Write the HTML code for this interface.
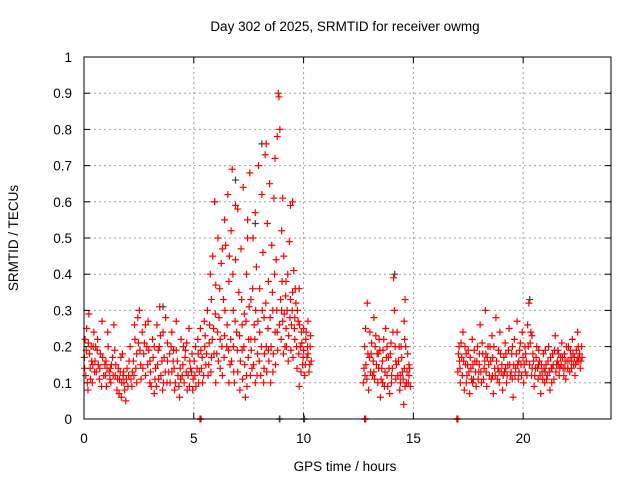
<!DOCTYPE html>
<html><head><meta charset="utf-8"><style>
html,body{margin:0;padding:0;background:#fff;}
svg{display:block;font-family:"Liberation Sans",sans-serif;}
</style></head><body>
<svg id="chart" width="640" height="480" xmlns="http://www.w3.org/2000/svg">
<text x="345" y="31" font-size="13.5" text-anchor="middle">Day 302 of 2025, SRMTID for receiver owmg</text>
<text x="345" y="471" font-size="13.5" text-anchor="middle">GPS time / hours</text>
<text x="18" y="238" font-size="13.5" text-anchor="middle" transform="rotate(-90 18 238)">SRMTID / TECUs</text>
<g id="grid"></g>
<g id="ticks"></g>
<g id="marks"></g>
<rect x="84" y="57" width="527" height="362" fill="none" stroke="#000" stroke-width="1"/>
</svg>
<script>
const xTicks = [0, 5, 10, 15, 20];
const yTicks = [0, 0.1, 0.2, 0.3, 0.4, 0.5, 0.6, 0.7, 0.8, 0.9, 1];
const yTickLabels = ["0","0.1","0.2","0.3","0.4","0.5","0.6","0.7","0.8","0.9","1"];
const segA = [[0.02,.17],[0.08,.12],[0.12,.25],[0.18,.08],[0.22,.29],[0.28,.14],[0.33,.2],[0.38,.1],[0.45,.24],[0.5,.16],[0.56,.13],[0.62,.22],[0.7,.11],[0.75,.18],[0.82,.27],[0.9,.12],[0.95,.15],[1.02,.09],[1.1,.2],[1.15,.13],[1.22,.1],[1.3,.17],[1.36,.26],[1.42,.12],[1.5,.08],[1.56,.14],[1.62,.11],[1.7,.06],[1.75,.18],[1.82,.1],[1.9,.05],[1.96,.14],[2.03,.12],[2.1,.2],[2.18,.09],[2.25,.16],[2.32,.22],[2.4,.1],[2.45,.28],[2.52,.3],[2.58,.15],[2.65,.24],[2.72,.18],[2.8,.12],[2.86,.2],[2.92,.27],[3.0,.16],[3.06,.09],[3.12,.22],[3.2,.07],[3.26,.14],[3.32,.26],[3.38,.19],[3.45,.31],[3.5,.12],[3.58,.08],[3.65,.17],[3.72,.28],[3.8,.21],[3.86,.13],[3.92,.1],[4.0,.24],[4.06,.16],[4.12,.08],[4.2,.19],[4.28,.12],[4.35,.06],[4.42,.22],[4.5,.15],[4.56,.1],[4.62,.19],[4.7,.08],[4.78,.25],[4.85,.14],[4.92,.18],[4.97,.11],
[0.05,.22],[0.15,.1],[0.25,.18],[0.4,.15],[0.6,.19],[0.8,.09],[1.0,.16],[1.2,.14],[1.4,.19],[1.6,.07],[1.8,.13],[2.0,.09],[2.2,.13],[2.4,.18],[2.6,.11],[2.8,.26],[3.0,.1],[3.2,.2],[3.4,.11],[3.6,.24],[3.8,.16],[4.0,.13],[4.2,.27],[4.4,.11],[4.6,.17],[4.8,.09]];
const segA2 = [[0.03,.14],[0.1,.19],[0.2,.21],[0.3,.11],[0.35,.16],[0.48,.13],[0.53,.2],[0.65,.15],[0.72,.14],[0.85,.17],[0.98,.12],[1.05,.14],[1.18,.11],[1.25,.15],[1.33,.12],[1.45,.15],[1.53,.11],[1.65,.13],[1.72,.1],[1.78,.12],[1.85,.08],[1.93,.11],[2.05,.16],[2.14,.11],[2.28,.12],[2.36,.14],[2.48,.21],[2.55,.19],[2.68,.14],[2.75,.21],[2.9,.15],[3.03,.13],[3.15,.17],[3.23,.11],[3.3,.09],[3.35,.15],[3.43,.2],[3.55,.16],[3.62,.1],[3.7,.13],[3.78,.1],[3.9,.18],[3.97,.2],[4.1,.14],[4.16,.1],[4.25,.16],[4.32,.09],[4.38,.14],[4.47,.12],[4.53,.2],[4.66,.13],[4.74,.12],[4.82,.16],[4.9,.13],[4.95,.08],[0.42,.2],[1.08,.24],[1.68,.17],[2.3,.26],[2.95,.19],[3.48,.23],[4.08,.19],[4.68,.21]];
const segB = [[5.02,.16],[5.1,.09],[5.18,.22],[5.25,.13],[5.32,.19],[5.4,.1],[5.48,.27],[5.55,.15],[5.62,.3],[5.7,.21],[5.75,.4],[5.8,.33],[5.86,.45],[5.9,.25],[5.95,.6],[6.0,.37],[6.05,.18],[6.1,.5],[6.15,.28],[6.2,.22],[6.25,.43],[6.3,.12],[6.35,.33],[6.4,.55],[6.45,.48],[6.5,.2],[6.55,.62],[6.6,.38],[6.65,.15],[6.7,.52],[6.75,.69],[6.8,.3],[6.85,.1],[6.9,.44],[6.95,.24],[7.0,.58],[7.05,.35],[7.1,.08],[7.15,.47],[7.2,.19],[7.25,.64],[7.3,.29],[7.35,.06],[7.4,.4],[7.45,.55],[7.5,.22],[7.55,.68],[7.6,.33],[7.65,.14],[7.7,.5],[7.75,.26],[7.8,.57],[7.85,.42],[7.9,.18],[7.95,.7],[8.0,.36],[8.05,.12],[8.1,.62],[8.15,.46],[8.2,.28],[8.25,.73],[8.3,.2],[8.35,.54],[8.4,.38],[8.45,.65],[8.5,.1],[8.55,.48],[8.6,.3],[8.65,.61],[8.7,.24],[8.75,.44],[8.8,.78],[8.85,.9],[8.88,.89],[8.92,.8],[8.95,.33],[9.0,.52],[9.05,.27],[9.1,.45],[9.15,.2],[9.2,.38],[9.25,.3],[9.3,.16],[9.35,.49],[9.4,.59],[9.45,.26],[9.5,.35],[9.55,.41],[9.6,.22],[9.65,.32],[9.7,.14],[9.75,.27],[9.8,.09],[9.85,.2],[9.9,.24],[9.95,.15],[10.0,.19],[10.05,.12],[10.1,.22],[10.15,.17],[10.2,.27],[10.25,.13],[10.3,.2],[10.35,.16],
[5.05,.12],[5.2,.18],[5.35,.14],[5.5,.2],[5.65,.12],[5.8,.17],[6.0,.1],[6.2,.14],[6.4,.23],[6.6,.1],[6.8,.2],[7.0,.13],[7.2,.26],[7.4,.12],[7.6,.22],[7.8,.1],[8.0,.24],[8.2,.14],[8.4,.19],[8.6,.13],[8.8,.24],[9.0,.3],[9.2,.25],[9.4,.33],[9.6,.28],[9.8,.36],[10.0,.25],[10.2,.18],[6.3,.47],[6.9,.59],[7.45,.5],[8.3,.76],[8.7,.72],[9.05,.61],[9.5,.6],[5.3,0],[5.28,0],[5.33,0]];
const segB2 = [[5.08,.2],[5.15,.14],[5.22,.1],[5.3,.25],[5.38,.17],[5.45,.12],[5.52,.23],[5.58,.18],[5.68,.15],[5.72,.26],[5.78,.13],[5.84,.22],[5.92,.18],[5.98,.29],[6.08,.24],[6.12,.16],[6.18,.36],[6.28,.2],[6.38,.17],[6.42,.3],[6.52,.26],[6.58,.19],[6.62,.45],[6.68,.22],[6.72,.16],[6.78,.4],[6.82,.13],[6.88,.27],[6.98,.19],[7.08,.23],[7.12,.16],[7.18,.33],[7.22,.11],[7.28,.2],[7.32,.15],[7.38,.27],[7.42,.09],[7.48,.17],[7.52,.31],[7.58,.12],[7.62,.19],[7.68,.36],[7.72,.15],[7.78,.22],[7.82,.3],[7.88,.12],[7.92,.27],[7.98,.16],[8.08,.2],[8.12,.3],[8.18,.1],[8.22,.18],[8.28,.32],[8.32,.13],[8.38,.25],[8.42,.16],[8.48,.28],[8.52,.2],[8.58,.35],[8.62,.18],[8.68,.4],[8.72,.15],[8.78,.3],[8.82,.19],[8.9,.26],[8.98,.22],[9.02,.38],[9.08,.18],[9.12,.29],[9.18,.34],[9.22,.2],[9.28,.4],[9.32,.23],[9.38,.28],[9.42,.19],[9.48,.3],[9.52,.17],[9.58,.25],[9.62,.36],[9.68,.2],[9.72,.3],[9.78,.18],[9.82,.26],[9.88,.13],[9.92,.21],[9.98,.17],[10.08,.15],[10.12,.24],[10.18,.2],[10.28,.15],[10.32,.23]];
const segC = [[12.72,.1],[12.78,.2],[12.84,.15],[12.9,.32],[12.96,.08],[13.02,.24],[13.08,.18],[13.14,.12],[13.2,.28],[13.26,.2],[13.32,.15],[13.38,.1],[13.44,.22],[13.5,.06],[13.56,.14],[13.62,.19],[13.68,.09],[13.74,.25],[13.8,.12],[13.86,.17],[13.92,.07],[13.98,.21],[14.04,.14],[14.1,.39],[14.14,.3],[14.2,.11],[14.26,.24],[14.32,.16],[14.38,.08],[14.44,.2],[14.5,.13],[14.56,.04],[14.62,.33],[14.68,.1],[14.74,.18],[14.8,.12],[14.86,.09],
[12.8,.12],[13.0,.17],[13.2,.13],[13.4,.18],[13.6,.1],[13.8,.2],[14.0,.1],[14.2,.16],[14.4,.12],[14.6,.22],[14.8,.15],[12.8,0],[12.78,0],[12.83,0]];
const segC2 = [[12.75,.14],[12.82,.25],[12.88,.11],[12.93,.18],[13.05,.13],[13.1,.21],[13.17,.16],[13.23,.11],[13.29,.23],[13.35,.18],[13.42,.14],[13.47,.19],[13.53,.11],[13.59,.16],[13.65,.22],[13.71,.13],[13.77,.17],[13.83,.09],[13.89,.14],[13.95,.18],[14.01,.12],[14.07,.24],[14.17,.2],[14.23,.15],[14.29,.12],[14.35,.2],[14.41,.1],[14.47,.17],[14.53,.11],[14.59,.14],[14.65,.2],[14.71,.13],[14.77,.1],[14.83,.14],[14.58,.27],[14.62,.09]];
const segD = [[17.02,.13],[17.08,.2],[17.14,.1],[17.2,.17],[17.26,.24],[17.32,.08],[17.38,.15],[17.44,.12],[17.5,.19],[17.56,.07],[17.62,.14],[17.68,.22],[17.74,.11],[17.8,.16],[17.86,.09],[17.92,.2],[17.98,.13],[18.04,.26],[18.1,.1],[18.16,.18],[18.22,.14],[18.28,.3],[18.34,.09],[18.4,.2],[18.46,.12],[18.52,.16],[18.58,.23],[18.64,.07],[18.7,.14],[18.76,.28],[18.82,.11],[18.88,.19],[18.94,.24],[19.0,.13],[19.06,.08],[19.12,.17],[19.18,.21],[19.24,.1],[19.3,.15],[19.36,.25],[19.42,.12],[19.48,.18],[19.54,.06],[19.6,.22],[19.66,.14],[19.72,.27],[19.78,.11],[19.84,.19],[19.9,.15],[19.96,.24],[20.02,.1],[20.08,.2],[20.14,.16],[20.2,.26],[20.26,.32],[20.32,.21],[20.38,.12],[20.44,.18],[20.5,.09],[20.56,.14],[20.62,.2],[20.68,.11],[20.74,.16],[20.8,.07],[20.86,.13],[20.92,.18],[20.98,.1],[21.04,.15],[21.1,.12],[21.16,.2],[21.22,.08],[21.28,.14],[21.34,.18],[21.4,.11],[21.46,.23],[21.52,.15],[21.58,.19],[21.64,.12],[21.7,.17],[21.76,.21],[21.82,.14],[21.88,.18],[21.94,.11],[22.0,.16],[22.06,.2],[22.12,.13],[22.18,.17],[22.24,.22],[22.3,.15],[22.36,.12],[22.42,.19],[22.48,.24],[22.54,.16],[22.6,.14],[22.66,.2],
[17.1,.16],[17.4,.18],[17.7,.1],[18.0,.15],[18.3,.18],[18.6,.12],[18.9,.13],[19.2,.14],[19.5,.11],[19.8,.16],[20.1,.13],[20.4,.23],[20.7,.15],[21.0,.13],[21.3,.1],[21.6,.15],[21.9,.14],[22.2,.14],[22.5,.17],[17.0,0],[16.98,0],[17.03,0]];
const segD2 = [[17.05,.18],[17.12,.14],[17.17,.21],[17.23,.12],[17.29,.16],[17.35,.2],[17.41,.1],[17.47,.15],[17.53,.13],[17.59,.17],[17.65,.11],[17.71,.15],[17.77,.19],[17.83,.13],[17.89,.16],[17.95,.11],[18.01,.18],[18.07,.13],[18.13,.21],[18.19,.11],[18.25,.16],[18.31,.13],[18.37,.17],[18.43,.15],[18.49,.2],[18.55,.11],[18.61,.17],[18.67,.2],[18.73,.12],[18.79,.16],[18.85,.14],[18.91,.1],[18.97,.18],[19.03,.15],[19.09,.12],[19.15,.13],[19.21,.18],[19.27,.12],[19.33,.19],[19.39,.15],[19.45,.13],[19.51,.2],[19.57,.15],[19.63,.12],[19.69,.18],[19.75,.15],[19.81,.13],[19.87,.21],[19.93,.12],[19.99,.17],[20.05,.15],[20.11,.18],[20.17,.12],[20.23,.2],[20.29,.15],[20.35,.24],[20.41,.14],[20.47,.16],[20.53,.12],[20.59,.17],[20.65,.14],[20.71,.19],[20.77,.12],[20.83,.15],[20.89,.11],[20.95,.14],[21.01,.19],[21.07,.11],[21.13,.16],[21.19,.13],[21.25,.17],[21.31,.14],[21.37,.15],[21.43,.19],[21.49,.13],[21.55,.16],[21.61,.18],[21.67,.14],[21.73,.15],[21.79,.17],[21.85,.12],[21.91,.16],[21.97,.2],[22.03,.14],[22.09,.16],[22.15,.19],[22.21,.16],[22.27,.18],[22.33,.17],[22.39,.15],[22.45,.16],[22.51,.2],[22.57,.18],[22.63,.16],[22.68,.17]];
const darkPts = [[5.95,.6],[6.9,.66],[7.8,.54],[8.1,.76],[3.6,.31],[20.3,.33],[14.15,.4],[8.9,0],[10.0,0],[8.92,0],[10.04,0]];

const X0 = 84, X1 = 611, Y0 = 419, Y1 = 57, XMAX = 24, YMAX = 1;
function xs(t){ return X0 + (t / XMAX) * (X1 - X0); }
function ys(v){ return Y0 - (v / YMAX) * (Y0 - Y1); }
const NS = "http://www.w3.org/2000/svg";
function mk(tag, attrs, parent){
  const e = document.createElementNS(NS, tag);
  for (const k in attrs) e.setAttribute(k, attrs[k]);
  parent.appendChild(e); return e;
}
const grid = document.getElementById('grid');
const ticks = document.getElementById('ticks');
const marks = document.getElementById('marks');

xTicks.forEach((t, i) => {
  const x = xs(t);
  if (t > 0) {
    const g = mk('line', {x1:x, x2:x, y1:Y0, y2:Y1, stroke:'#a0a0a0', 'stroke-dasharray':'2,3', 'stroke-width':1}, grid);
    
    
  }
  mk('line', {x1:x, x2:x, y1:Y0, y2:Y0-6, stroke:'#000'}, ticks);
  mk('line', {x1:x, x2:x, y1:Y1, y2:Y1+6, stroke:'#000'}, ticks);
  const tx = mk('text', {x:x, y:443, 'font-size':13.5, 'text-anchor':'middle'}, ticks);
  tx.textContent = String(t);
  
  
});
yTicks.forEach((v, i) => {
  const y = ys(v);
  if (v > 0 && v < 1) {
    const g = mk('line', {x1:X0, x2:X1, y1:y, y2:y, stroke:'#a0a0a0', 'stroke-dasharray':'2,3', 'stroke-width':1}, grid);
    
    
  }
  mk('line', {x1:X0, x2:X0+6, y1:y, y2:y, stroke:'#000'}, ticks);
  mk('line', {x1:X1, x2:X1-6, y1:y, y2:y, stroke:'#000'}, ticks);
  const tx = mk('text', {x:72, y:y+5, 'font-size':13.5, 'text-anchor':'end'}, ticks);
  tx.textContent = yTickLabels[i];
  
  
});
function plus(p, color, name){
  const x = xs(p[0]), y = ys(p[1]);
  const el = mk('path', {d:`M${x-3.5},${y}H${x+3.5}M${x},${y-3.5}V${y+3.5}`, stroke:color, 'stroke-width':1.2, fill:'none'}, marks);
  
  
}
darkPts.forEach(p => plus(p, '#404040', 'point-dark'));
[segA, segA2, segB, segB2, segC, segC2, segD, segD2].forEach(seg => seg.forEach(p => plus(p, '#ff0000', 'point')));
</script>
</body></html>
